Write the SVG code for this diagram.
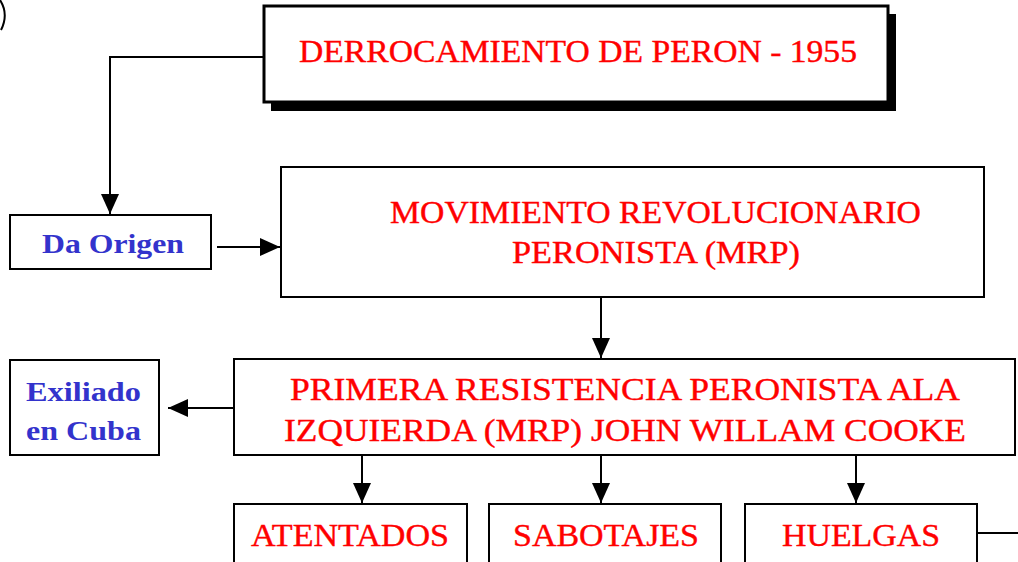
<svg xmlns="http://www.w3.org/2000/svg" width="1018" height="562" viewBox="0 0 1018 562">
<style>
.box{fill:#fff;stroke:#000;stroke-width:2}
.red{fill:#ff0000;font-family:"Liberation Serif","Times New Roman",serif;font-size:32px;stroke:#ff0000;stroke-width:0.4}
.blue{fill:#3333cc;font-family:"Liberation Serif","Times New Roman",serif;font-size:28px;font-weight:bold}
.conn{fill:none;stroke:#000;stroke-width:2}
</style>
<defs>
<marker id="ah" markerUnits="userSpaceOnUse" markerWidth="22" markerHeight="22" viewBox="0 0 22 22" refX="20" refY="11" orient="auto">
<path d="M0,2 L20,11 L0,20 Z" fill="#000"/>
</marker>
</defs>
<rect width="1018" height="562" fill="#fff"/>
<path d="M0,0 Q9,14 1,30" fill="none" stroke="#000" stroke-width="2"/>
<g id="connectors">
<path class="conn" d="M263,57 H110 V214" marker-end="url(#ah)"/>
<path class="conn" d="M217,247 H280" marker-end="url(#ah)"/>
<path class="conn" d="M601,297 V358" marker-end="url(#ah)"/>
<path class="conn" d="M234,408 H168" marker-end="url(#ah)"/>
<path class="conn" d="M362,455 V503" marker-end="url(#ah)"/>
<path class="conn" d="M601,455 V503" marker-end="url(#ah)"/>
<path class="conn" d="M856,455 V503" marker-end="url(#ah)"/>
<path class="conn" d="M977,533 H1018"/>
</g>
<g id="n-derrocamiento">
<rect x="271" y="14" width="625" height="97" fill="#000"/>
<rect x="264" y="6" width="624" height="96" fill="#fff" stroke="#000" stroke-width="3"/>
<text class="red" x="299" y="62" textLength="558" lengthAdjust="spacingAndGlyphs">DERROCAMIENTO DE PERON - 1955</text>
</g>
<g id="n-daorigen">
<rect class="box" x="10" y="215" width="201" height="54"/>
<text class="blue" x="42" y="253" textLength="142" lengthAdjust="spacingAndGlyphs">Da Origen</text>
</g>
<g id="n-mrp">
<rect class="box" x="281" y="167" width="703" height="130"/>
<text class="red" x="390" y="223" textLength="531" lengthAdjust="spacingAndGlyphs">MOVIMIENTO REVOLUCIONARIO</text>
<text class="red" x="512" y="263" textLength="288" lengthAdjust="spacingAndGlyphs">PERONISTA (MRP)</text>
</g>
<g id="n-primera">
<rect class="box" x="234" y="359" width="781" height="96"/>
<text class="red" x="290" y="400" textLength="670" lengthAdjust="spacingAndGlyphs">PRIMERA  RESISTENCIA  PERONISTA  ALA</text>
<text class="red" x="284" y="441" textLength="682" lengthAdjust="spacingAndGlyphs">IZQUIERDA  (MRP)  JOHN  WILLAM COOKE</text>
</g>
<g id="n-exiliado">
<rect class="box" x="10" y="360" width="149" height="95"/>
<text class="blue" x="26" y="401" textLength="115" lengthAdjust="spacingAndGlyphs">Exiliado</text>
<text class="blue" x="26" y="440" textLength="115" lengthAdjust="spacingAndGlyphs">en Cuba</text>
</g>
<g id="n-atentados">
<rect class="box" x="234" y="504" width="233" height="62"/>
<text class="red" x="251" y="546" textLength="198" lengthAdjust="spacingAndGlyphs">ATENTADOS</text>
</g>
<g id="n-sabotajes">
<rect class="box" x="489" y="504" width="232" height="62"/>
<text class="red" x="513" y="546" textLength="186" lengthAdjust="spacingAndGlyphs">SABOTAJES</text>
</g>
<g id="n-huelgas">
<rect class="box" x="745" y="504" width="232" height="62"/>
<text class="red" x="782" y="546" textLength="158" lengthAdjust="spacingAndGlyphs">HUELGAS</text>
</g>
</svg>
